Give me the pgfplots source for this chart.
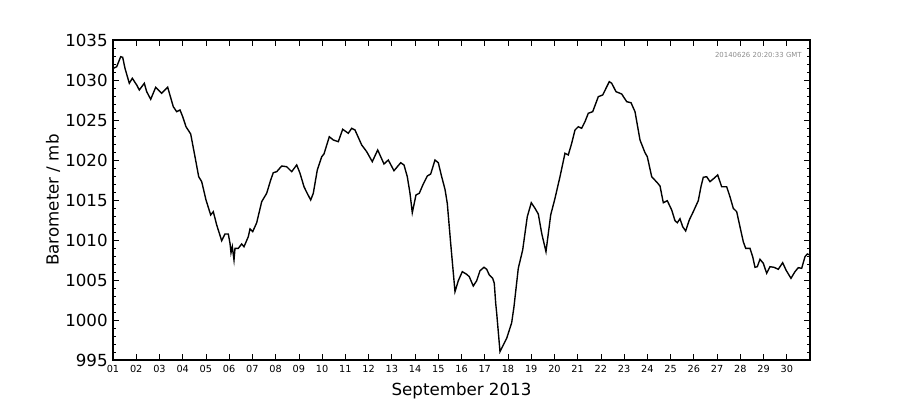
\documentclass[border=0pt]{standalone}
\usepackage{pgfplots}
\pgfplotsset{compat=1.18}
\usepackage{fontspec}
\setmainfont{DejaVu Sans}

\begin{document}
\begin{tikzpicture}
  \path[use as bounding box] (0,0) rectangle (648pt,288pt);
  \begin{axis}[
      at={(81.36pt,28.8pt)}, anchor=south west,
      scale only axis,
      width=501.84pt, height=230.4pt,
      xmin=1, xmax=31,
      ymin=995, ymax=1035,
      xtick={1,...,30},
      xticklabels={01,02,03,04,05,06,07,08,09,10,11,12,13,14,15,16,17,18,19,20,21,22,23,24,25,26,27,28,29,30},
      ytick={995,1000,...,1035},
      minor y tick num=4,
      major tick length=4pt,
      minor tick length=2pt,
      tick style={black, line width=0.5pt},
      line width=1pt,
      /pgf/number format/assume math mode=true,
      /pgf/number format/1000 sep={},
      y tick label style={font=\fontsize{12}{14}\selectfont},
      x tick label style={font=\fontsize{7}{8}\selectfont},
      xlabel={September 2013},
      ylabel={Barometer / mb},
      ylabel shift=-3.5pt,
      label style={font=\fontsize{12}{14}\selectfont},
    ]
    \addplot[black, line width=1pt, mark=none] coordinates {
      (1.013,1031.46) (1.159,1031.66) (1.331,1032.91) (1.417,1032.84) (1.516,1031.46)
      (1.702,1029.59) (1.831,1030.21) (2.020,1029.38) (2.132,1028.75) (2.347,1029.59)
      (2.450,1028.54) (2.623,1027.59) (2.838,1029.09) (3.096,1028.34) (3.354,1029.09)
      (3.595,1026.66) (3.742,1026.04) (3.884,1026.25) (4.000,1025.41) (4.142,1024.16)
      (4.344,1023.25) (4.529,1020.41) (4.689,1017.91) (4.818,1017.29) (5.003,1015.00)
      (5.205,1013.13) (5.317,1013.54) (5.463,1011.88) (5.678,1009.91) (5.820,1010.75)
      (5.962,1010.75) (6.036,1009.59) (6.079,1008.41) (6.135,1009.16) (6.208,1007.50)
      (6.251,1008.96) (6.393,1008.96) (6.539,1009.50) (6.638,1009.16) (6.823,1010.41)
      (6.897,1011.38) (7.013,1011.04) (7.185,1012.16) (7.400,1014.79) (7.615,1015.84)
      (7.787,1017.50) (7.899,1018.41) (8.046,1018.54) (8.261,1019.25) (8.476,1019.16)
      (8.691,1018.54) (8.907,1019.38) (9.049,1018.34) (9.221,1016.66) (9.337,1015.96)
      (9.509,1015.00) (9.621,1015.84) (9.793,1018.75) (9.983,1020.41) (10.081,1020.75)
      (10.310,1022.91) (10.482,1022.50) (10.697,1022.29) (10.886,1023.84) (11.127,1023.34)
      (11.274,1023.96) (11.416,1023.75) (11.704,1021.88) (11.919,1021.04) (12.160,1019.79)
      (12.393,1021.25) (12.664,1019.50) (12.849,1020.00) (13.094,1018.66) (13.383,1019.66)
      (13.525,1019.38) (13.667,1017.91) (13.783,1015.84) (13.882,1013.41) (14.041,1015.63)
      (14.183,1015.84) (14.355,1017.00) (14.528,1018.00) (14.674,1018.25) (14.859,1020.00)
      (15.001,1019.66) (15.147,1017.91) (15.289,1016.34) (15.388,1014.59) (15.534,1009.59)
      (15.720,1003.54) (15.862,1004.91) (16.034,1006.04) (16.224,1005.71) (16.335,1005.41)
      (16.507,1004.25) (16.654,1004.91) (16.796,1006.16) (16.968,1006.59) (17.084,1006.34)
      (17.196,1005.63) (17.342,1005.21) (17.411,1004.59) (17.472,1002.09) (17.515,1000.84)
      (17.657,996.04) (17.799,996.88) (17.945,997.71) (18.160,999.66) (18.259,1001.66)
      (18.444,1006.46) (18.633,1008.75) (18.831,1012.91) (19.004,1014.66) (19.163,1013.96)
      (19.305,1013.25) (19.451,1010.84) (19.636,1008.54) (19.839,1013.13) (20.024,1015.21)
      (20.239,1017.91) (20.454,1020.84) (20.596,1020.63) (20.743,1022.09) (20.885,1023.75)
      (21.027,1024.16) (21.173,1023.96) (21.315,1024.79) (21.457,1025.84) (21.647,1026.04)
      (21.888,1027.91) (22.077,1028.13) (22.361,1029.79) (22.465,1029.59) (22.650,1028.54)
      (22.895,1028.25) (23.110,1027.29) (23.296,1027.16) (23.468,1026.04) (23.683,1022.50)
      (23.898,1020.91) (23.997,1020.41) (24.187,1017.91) (24.428,1017.16) (24.544,1016.75)
      (24.686,1014.66) (24.858,1014.91) (25.047,1013.75) (25.189,1012.41) (25.288,1012.16)
      (25.404,1012.66) (25.520,1011.66) (25.649,1011.13) (25.804,1012.50) (25.976,1013.54)
      (26.191,1014.91) (26.307,1016.66) (26.406,1017.84) (26.553,1017.91) (26.695,1017.29)
      (26.867,1017.71) (27.026,1018.13) (27.198,1016.66) (27.413,1016.66) (27.555,1015.41)
      (27.698,1013.96) (27.844,1013.54) (27.986,1011.66) (28.128,1009.79) (28.231,1008.96)
      (28.416,1008.96) (28.533,1007.91) (28.632,1006.59) (28.731,1006.66) (28.847,1007.59)
      (28.989,1007.09) (29.135,1005.84) (29.277,1006.66) (29.449,1006.59) (29.634,1006.34)
      (29.824,1007.16) (29.966,1006.25) (30.181,1005.21) (30.353,1006.04) (30.496,1006.54)
      (30.642,1006.46) (30.784,1007.91) (30.883,1008.25) (31.000,1008.13)
    };
    \node[anchor=north east, text=black!45, font=\fontsize{5}{6}\selectfont, inner sep=0pt]
      at (rel axis cs:0.989,0.963) {20140626 20:20:33 GMT};
  \end{axis}
\end{tikzpicture}
\end{document}
